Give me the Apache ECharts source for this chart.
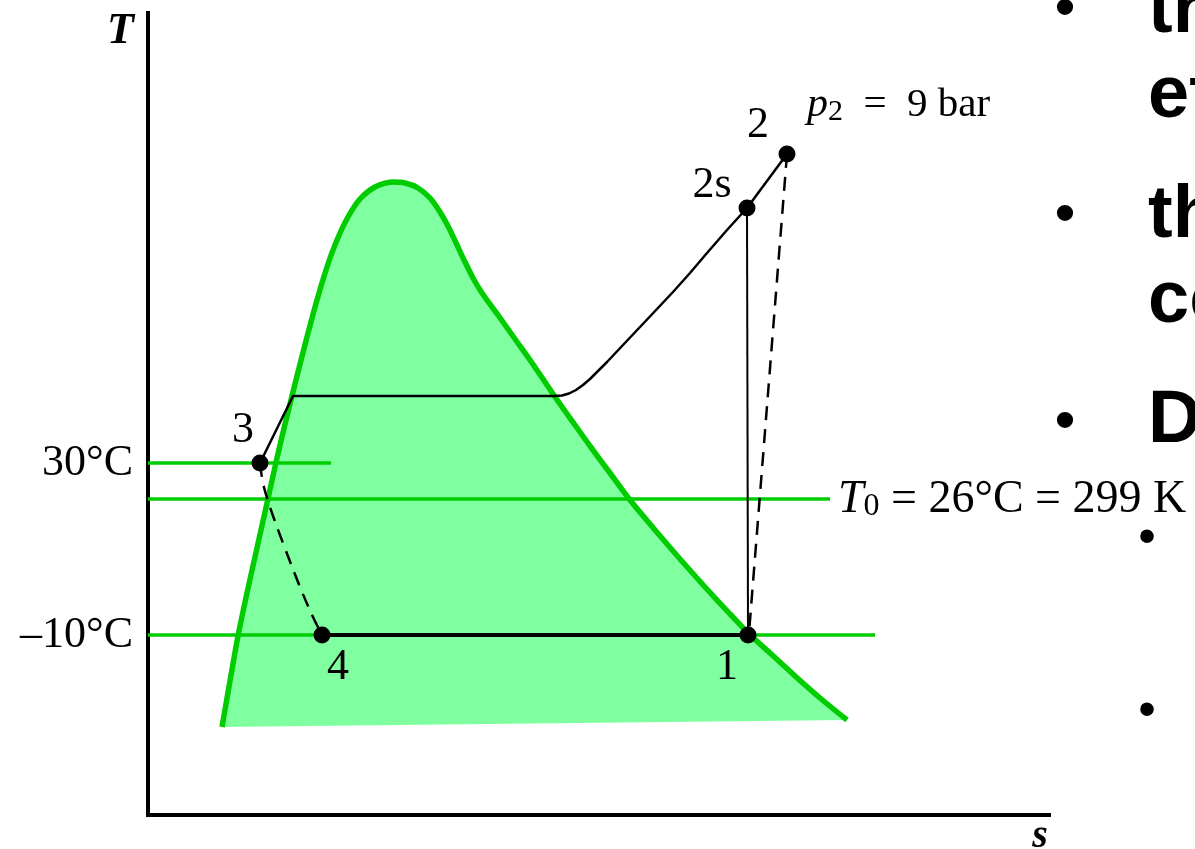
<!DOCTYPE html>
<html><head><meta charset="utf-8">
<script src="https://cdn.jsdelivr.net/npm/echarts@6/dist/echarts.min.js"></script>
<style>html,body{margin:0;padding:0;background:#fff}#c{width:1195px;height:849px}</style>
</head><body><div id="c"></div>
<script>
// ---- data (chart units: s along x, T along y) ----
const domeLeft = [[74,88],[82,134],[90,179],[99,222],[109,267],[119,312],[129,357],[139,399],[149,439],[159,478],[169,515],[179,548],[189,575],[200,598],[212,616],[227,628],[244,633]];
const domeRight = [[257,632],[270,627],[282,617],[292,603],[301,587],[309,570],[317,553],[325,537],[334,522],[344,508],[355,493],[367,476],[382,455],[397,433],[412,411],[427,390],[442,369],[462,342],[482,315],[507,285],[532,256],[557,228],[582,201],[600,182],[622,162],[647,139],[672,117],[699,95]];
const isobarLow = [[112,352],[145,419],[407,419]];
const isobarCurve = [[407,419],[414,419.5],[421,421.5],[428,425],[435,430],[442,436],[450,444],[459,453],[475,470],[492,488],[509,506],[525,523],[542,542],[559,562],[579,585],[599,607]];
const isobarTop = [[599,607],[639,661]];
const isentropic = [[599,607],[600,180]];
const compression = [[639,661],[601,182]];
const evaporator = [[174,180],[600,180]];
const throttle = [[112,352],[115,332],[122,308],[135,272],[152,228],[165,198],[174,180]];
const stateNames = ['1','2','2s','3','4'];
const stateS = [600,639,599,112,174];
const stateT = [180,661,607,352,180];
const tempLineNames = ['30°C','T0','-10°C'];
const tempLineT = [352,316,180];
const tempLineEndS = [183,682,727];
const tickValues = [180,352];
const tickLabels = ['–10°C','30°C'];
const slideLines = ['tr','et','th','co','D'];

// ---- styles ----
const SERIF = '"Liberation Serif","Times New Roman",serif';
const SANS = '"Liberation Sans",Arial,sans-serif';
const GREEN = '#00cc00';
const FILL = '#80ffa0';
const labelOffsets = {'1':[-21,32],'2':[-29,-29],'2s':[-35,-23],'3':[-17,-33],'4':[16,32]};
const domePoints = domeLeft.concat(domeRight);

function lineSeries(data, opts){
  return Object.assign({type:'line', data:data, symbol:'none', showSymbol:false, silent:true, animation:false,
    lineStyle:{color:'#000', width:2.5}, z:5}, opts||{});
}

const series = [];
series.push({
  type:'custom', coordinateSystem:'cartesian2d', silent:true, animation:false, z:1,
  data:[[0,0]],
  renderItem:function(params, api){
    const pts = domePoints.map(p=>api.coord(p));
    return {type:'polygon', shape:{points:pts, smooth:0}, style:{fill:FILL, stroke:null}};
  }
});
tempLineNames.forEach((n,i)=>{
  const s = lineSeries([[0,tempLineT[i]],[tempLineEndS[i],tempLineT[i]]], {lineStyle:{color:GREEN,width:3.5}, z:3});
  if(n==='T0'){
    s.endLabel = {show:true, distance:8, offset:[0,1], formatter:'{it|T}{sub|0}{n| = 26°C = 299 K}',
      rich:{
        it:{fontFamily:SERIF, fontStyle:'italic', fontSize:46, lineHeight:46, color:'#000'},
        sub:{fontFamily:SERIF, fontSize:32, lineHeight:14, verticalAlign:'bottom', color:'#000'},
        n:{fontFamily:SERIF, fontSize:46, lineHeight:46, color:'#000'}
      }};
  }
  series.push(s);
});
series.push(lineSeries(domePoints, {smooth:0.25, lineStyle:{color:GREEN,width:5.5}, z:4}));
series.push(lineSeries(isobarLow));
series.push(lineSeries(isobarCurve, {smooth:false, lineStyle:{color:'#000', width:2.5, join:'round'}}));
series.push(lineSeries(isobarTop, {endLabel:{show:true, distance:20, offset:[0,-49], formatter:'{it|p}{sub|2}{n|  =  9 bar}',
  rich:{
    it:{fontFamily:SERIF, fontStyle:'italic', fontSize:42, lineHeight:44, color:'#000'},
    sub:{fontFamily:SERIF, fontSize:30, lineHeight:12, verticalAlign:'bottom', color:'#000'},
    n:{fontFamily:SERIF, fontSize:41, lineHeight:44, color:'#000'}
  }}}));
series.push(lineSeries(isentropic, {lineStyle:{color:'#000',width:2}}));
series.push(lineSeries(compression, {lineStyle:{color:'#000',width:2.5,type:[14,9]}}));
series.push(lineSeries(evaporator, {lineStyle:{color:'#000',width:4}}));
series.push(lineSeries(throttle, {smooth:0.4, lineStyle:{color:'#000',width:2.5,type:[14,9]}}));
series.push({
  type:'scatter', silent:true, animation:false, z:10, symbolSize:17,
  itemStyle:{color:'#000', opacity:1},
  data: stateNames.map((n,i)=>({name:n, value:[stateS[i],stateT[i]],
    label:{show:true, position:'inside', offset:labelOffsets[n], formatter:n,
      fontFamily:SERIF, fontSize:44, color:'#000', textBorderWidth:0}}))
});

const slideY = [12,97,217,302,422];
const graphic = [];
slideLines.forEach((t,i)=>{
  graphic.push({type:'text', x:1148, y:slideY[i], silent:true,
    style:{text:t, font:'bold 74px '+SANS, fill:'#000', align:'left', verticalAlign:'middle'}});
});
[[1065,10,60],[1065,216,60],[1065,423,60],[1147,539,50],[1147,712,50]].forEach(b=>{
  graphic.push({type:'text', x:b[0], y:b[1], silent:true,
    style:{text:'•', font:b[2]+'px '+SANS, fill:'#000', align:'center', verticalAlign:'middle'}});
});

const chart = echarts.init(document.getElementById('c'), null, {renderer:'canvas'});
chart.setOption({
  animation:false,
  backgroundColor:'#fff',
  grid:{left:148, right:146, top:13, bottom:34, containLabel:false, outerBoundsMode:'none'},
  xAxis:{type:'value', min:0, max:901, name:'s', nameLocation:'end', nameGap:-9,
    nameTextStyle:{fontFamily:SERIF, fontStyle:'italic', fontWeight:'bold', fontSize:40, color:'#000', align:'center', verticalAlign:'top', padding:[2,0,0,0]},
    axisLine:{show:true, onZero:false, lineStyle:{color:'#000', width:4, cap:'square'}},
    axisTick:{show:false}, axisLabel:{show:false}, splitLine:{show:false}},
  yAxis:{type:'value', min:0, max:802, name:'T', nameLocation:'end', nameGap:-19,
    nameTextStyle:{fontFamily:SERIF, fontStyle:'italic', fontWeight:'bold', fontSize:44, color:'#000', align:'right', verticalAlign:'middle', padding:[0,14,0,0]},
    axisLine:{show:true, onZero:false, lineStyle:{color:'#000', width:4, cap:'square'}},
    axisTick:{show:false}, splitLine:{show:false},
    axisLabel:{show:true, customValues:tickValues, formatter:v=>tickLabels[tickValues.indexOf(v)], margin:15,
      fontFamily:SERIF, fontSize:44, color:'#000'}},
  series:series,
  graphic:graphic
});
</script></body></html>
